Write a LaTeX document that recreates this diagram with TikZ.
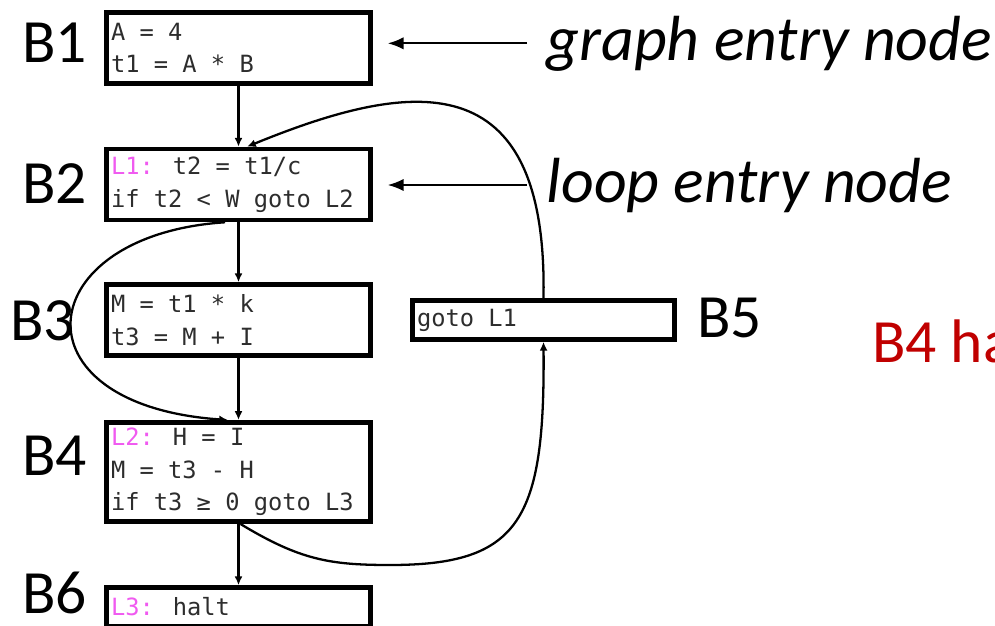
\documentclass[tikz,border=0pt]{standalone}
\usepackage{fontspec}
\setmainfont{Carlito}
\newfontfamily\codefont{DejaVu Sans Mono}
\usetikzlibrary{arrows.meta}
\definecolor{codegray}{RGB}{45,45,45}
\definecolor{lblpink}{RGB}{240,90,240}
\definecolor{notered}{RGB}{192,0,0}
\newcommand{\lbl}[1]{\textcolor{lblpink}{#1}}

\begin{document}
\begin{tikzpicture}[
  x=0.02cm, y=-0.02cm,
  >=Latex,
  block/.style={
    draw,
    line width=2.6pt,
    fill=white,
    minimum width=5.28cm,
    text width=5.1cm,
    inner xsep=2.5pt,
    align=flush left,
    text=codegray,
    font=\codefont\fontsize{13.5}{18.5}\selectfont
  },
  blockname/.style={anchor=base west, inner sep=0pt, font=\fontsize{35}{42}\selectfont},
  note/.style={anchor=base west, inner xsep=11pt, font=\itshape\fontsize{36.3}{42}\selectfont},
  flow/.style={-{Latex[length=5pt,width=4.5pt]}, line width=2pt},
  backflow/.style={-{Latex[length=5pt,width=4.5pt]}, line width=1.3pt},
  pointer/.style={-{Latex[length=9pt,width=7pt]}, line width=1.2pt, shorten >=8.5pt}
]
\clip (0,0) rectangle (995,626);

% Basic blocks of the flow graph.
\node[block, minimum height=1.42cm] (b1) at (238.5,48) {A = 4\\t1 = A * B};
\node[block, minimum height=1.42cm] (b2) at (238.5,184.5)
  {\lbl{L1:} t2 = t1/c\\if t2 < W goto L2};
\node[block, minimum height=1.42cm] (b3) at (238.5,320) {M = t1 * k\\t3 = M + I};
\node[block, minimum height=1.98cm] (b4) at (238.5,472)
  {\lbl{L2:} H = I\\M = t3 - H\\if t3 ≥ 0 goto L3};
\node[block, minimum height=0.78cm, minimum width=5.24cm, text width=5.06cm]
  (b5) at (543.5,320) {goto L1};
\node[block, minimum height=0.78cm] (b6) at (238.5,607) {\lbl{L3:} halt};

% Block names.
\node[blockname] (n1) at (22,62) {B1};
\node[blockname] (n2) at (22,203) {B2};
\node[blockname] (n3) at (10,340) {B3};
\node[blockname] (n4) at (22,475) {B4};
\node[blockname] (n5) at (697,337) {B5};
\node[blockname] (n6) at (22,613) {B6};

% Annotations.
\node[note] (gentry) at (527,60) {graph entry node};
\node[note] (lentry) at (527,202) {loop entry node};
\node[blockname, text=notered] (remark) at (872,362) {B4 ha};

\draw[pointer] (gentry.west) -- (gentry.west -| b1.east);
\draw[pointer] (lentry.west) -- (lentry.west -| b2.east);

% Edges.
\draw[flow] (b1) -- (b2);
\draw[flow] (b2) -- (b3);
\draw[flow] (b3) -- (b4);
\draw[flow] (b4) -- (b6);

\draw[backflow] ([xshift=-0.27cm]b2.south)
  .. controls (30,235) and (10,405) .. ([xshift=-0.21cm]b4.north);
\draw[backflow] ([xshift=0.04cm]b4.south)
  .. controls (300,560) and (330,565) .. (390,565)
  .. controls (520,565) and (545,520) .. (b5.south);
\draw[backflow] (b5.north)
  .. controls (548,60) and (410,80) .. ([xshift=0.17cm]b2.north);

\end{tikzpicture}
\end{document}
